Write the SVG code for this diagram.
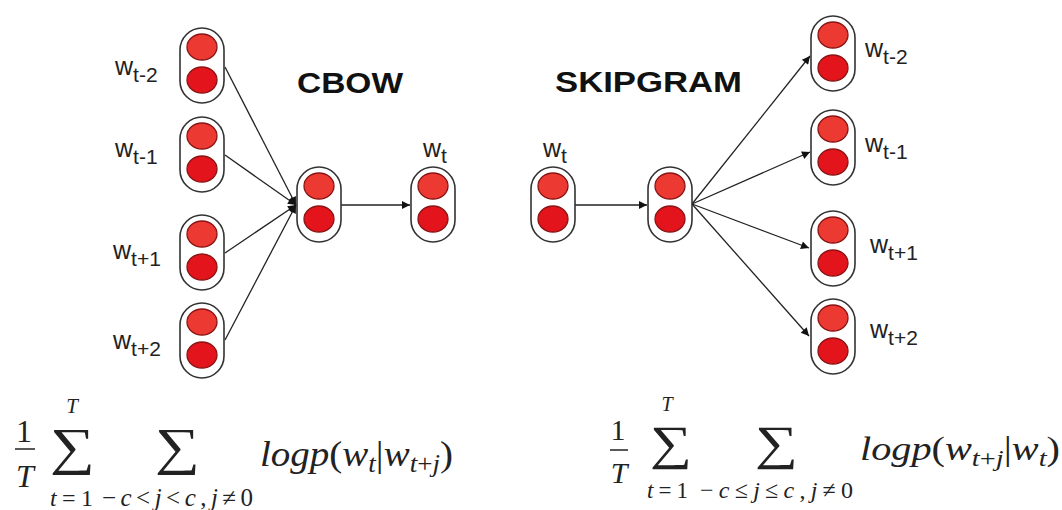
<svg xmlns="http://www.w3.org/2000/svg" width="1062" height="510" viewBox="0 0 1062 510">
<defs>
<style>
.cap{fill:#fff;stroke:#333;stroke-width:1.6}
.c1{fill:#ec3a32;stroke:#8a1414;stroke-width:1.3}
.c2{fill:#e4141c;stroke:#8a1414;stroke-width:1.3}
.edge{stroke:#222;stroke-width:1.3;fill:none;marker-end:url(#ah)}
.lbl{font-family:"Liberation Sans",Arial,sans-serif;font-size:25px;fill:#222}
.sub{font-size:21px}
.title{font-family:"Liberation Sans",Arial,sans-serif;font-weight:bold;font-size:29px;fill:#111}
.m{font-family:"Liberation Serif","Times New Roman",serif;fill:#222}
.it{font-style:italic}
</style>
<marker id="ah" viewBox="0 0 10 10" refX="10" refY="5" markerWidth="10" markerHeight="8" markerUnits="userSpaceOnUse" orient="auto">
<path d="M0,0 L10,5 L0,10 z" fill="#111"/>
</marker>
<g id="unit">
<rect class="cap" x="0" y="0" width="44" height="75" rx="22" ry="22"/>
<ellipse class="c1" cx="22" cy="19" rx="15" ry="13"/>
<ellipse class="c2" cx="22" cy="52" rx="15" ry="13"/>
</g>
</defs>
<rect width="1062" height="510" fill="#fff"/>

<g id="connectors">
<line class="edge" x1="225" y1="67" x2="296" y2="205"/>
<line class="edge" x1="225" y1="155" x2="296" y2="205"/>
<line class="edge" x1="225" y1="253" x2="296" y2="205"/>
<line class="edge" x1="225" y1="340" x2="296" y2="205"/>
<line class="edge" x1="341" y1="205" x2="410" y2="205"/>
<line class="edge" x1="575" y1="205" x2="647" y2="205"/>
<line class="edge" x1="692" y1="204" x2="810" y2="56"/>
<line class="edge" x1="692" y1="204" x2="810" y2="152"/>
<line class="edge" x1="692" y1="204" x2="809" y2="248"/>
<line class="edge" x1="692" y1="204" x2="809" y2="336"/>
</g>

<g id="cbow-title"><text class="title" x="297" y="93" textLength="106" lengthAdjust="spacingAndGlyphs">CBOW</text></g>
<g id="skip-title"><text class="title" x="555" y="92" textLength="187" lengthAdjust="spacingAndGlyphs">SKIPGRAM</text></g>

<g id="cbow-in-1"><use href="#unit" x="180" y="28"/><text class="lbl" x="115" y="75">w<tspan class="sub" dy="7">t-2</tspan></text></g>
<g id="cbow-in-2"><use href="#unit" x="180" y="117"/><text class="lbl" x="115" y="157">w<tspan class="sub" dy="7">t-1</tspan></text></g>
<g id="cbow-in-3"><use href="#unit" x="180" y="215"/><text class="lbl" x="113" y="259">w<tspan class="sub" dy="7">t+1</tspan></text></g>
<g id="cbow-in-4"><use href="#unit" x="180" y="303"/><text class="lbl" x="113" y="349">w<tspan class="sub" dy="7">t+2</tspan></text></g>
<g id="cbow-hidden"><use href="#unit" x="297" y="167"/></g>
<g id="cbow-out"><use href="#unit" x="411" y="167"/><text class="lbl" x="423" y="157">w<tspan class="sub" dy="6">t</tspan></text></g>

<g id="skip-in"><use href="#unit" x="531" y="167"/><text class="lbl" x="543" y="157">w<tspan class="sub" dy="6">t</tspan></text></g>
<g id="skip-hidden"><use href="#unit" x="648" y="167"/></g>
<g id="skip-out-1"><use href="#unit" x="811" y="16"/><text class="lbl" x="865" y="57">w<tspan class="sub" dy="7">t-2</tspan></text></g>
<g id="skip-out-2"><use href="#unit" x="811" y="110"/><text class="lbl" x="865" y="152">w<tspan class="sub" dy="7">t-1</tspan></text></g>
<g id="skip-out-3"><use href="#unit" x="811" y="211"/><text class="lbl" x="870" y="253">w<tspan class="sub" dy="7">t+1</tspan></text></g>
<g id="skip-out-4"><use href="#unit" x="811" y="299"/><text class="lbl" x="870" y="338">w<tspan class="sub" dy="7">t+2</tspan></text></g>

<g id="formula-cbow">
<text class="m" x="24" y="442" font-size="32" text-anchor="middle">1</text>
<line x1="15" y1="449" x2="35" y2="449" stroke="#222" stroke-width="1.5"/>
<text class="m it" x="25" y="487" font-size="32" text-anchor="middle">T</text>
<text class="m" x="50" y="464" font-size="52" textLength="45" lengthAdjust="spacingAndGlyphs">∑</text>
<text class="m it" x="72" y="413" font-size="21" text-anchor="middle">T</text>
<text class="m" x="50" y="506" font-size="24" textLength="43" lengthAdjust="spacing"><tspan class="it">t</tspan>=1</text>
<text class="m" x="155" y="464" font-size="52" textLength="45" lengthAdjust="spacingAndGlyphs">∑</text>
<text class="m" x="102" y="506" font-size="25" textLength="151" lengthAdjust="spacing">−<tspan class="it">c</tspan>&lt;<tspan class="it">j</tspan>&lt;<tspan class="it">c</tspan>,<tspan class="it">j</tspan>≠0</text>
<text class="m" x="260" y="466" font-size="36" textLength="193" lengthAdjust="spacingAndGlyphs"><tspan class="it">logp</tspan>(<tspan class="it">w</tspan><tspan class="it" font-size="25" dy="6">t</tspan><tspan dy="-6">|</tspan><tspan class="it">w</tspan><tspan class="it" font-size="25" dy="6">t</tspan><tspan font-size="25">+</tspan><tspan class="it" font-size="25">j</tspan><tspan dy="-6">)</tspan></text>
</g>

<g id="formula-skip">
<text class="m" x="618" y="440" font-size="30" text-anchor="middle">1</text>
<line x1="610" y1="450" x2="628" y2="450" stroke="#222" stroke-width="1.5"/>
<text class="m it" x="619" y="483" font-size="30" text-anchor="middle">T</text>
<text class="m" x="650" y="459" font-size="48" textLength="42" lengthAdjust="spacingAndGlyphs">∑</text>
<text class="m it" x="667" y="411" font-size="20" text-anchor="middle">T</text>
<text class="m" x="647" y="498" font-size="23" textLength="41" lengthAdjust="spacing"><tspan class="it">t</tspan>=1</text>
<text class="m" x="755" y="459" font-size="48" textLength="43" lengthAdjust="spacingAndGlyphs">∑</text>
<text class="m" x="700" y="498" font-size="24" textLength="153" lengthAdjust="spacing">−<tspan class="it">c</tspan>≤<tspan class="it">j</tspan>≤<tspan class="it">c</tspan>,<tspan class="it">j</tspan>≠0</text>
<text class="m" x="860" y="460" font-size="34" textLength="200" lengthAdjust="spacingAndGlyphs"><tspan class="it">logp</tspan>(<tspan class="it">w</tspan><tspan class="it" font-size="24" dy="6">t</tspan><tspan font-size="24">+</tspan><tspan class="it" font-size="24">j</tspan><tspan dy="-6">|</tspan><tspan class="it">w</tspan><tspan class="it" font-size="24" dy="6">t</tspan><tspan dy="-6">)</tspan></text>
</g>
</svg>
